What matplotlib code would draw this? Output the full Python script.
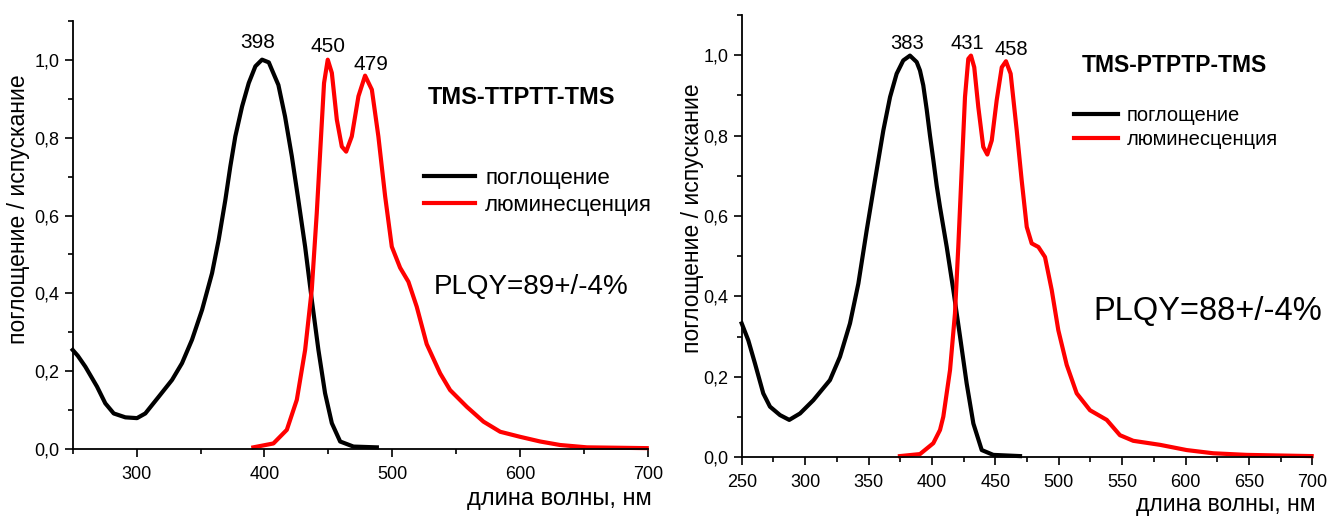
import numpy as np
import matplotlib.pyplot as plt
from matplotlib.ticker import MultipleLocator, FuncFormatter

plt.rcParams['font.family'] = ['Liberation Sans', 'DejaVu Sans']

# Левый график: TMS-TTPTT-TMS
abs1_x = [250, 254, 259.9, 269, 275.5, 282.1, 291.2, 300.3, 306.8, 317.3, 327.7, 335.5, 343.3, 351.2, 359,
          364.2, 369.4, 373.3, 377.2, 382.5, 387.7, 392.9, 398.1, 403.4, 405.7, 410.9, 416.1, 421.4, 426.5,
          431.8, 437, 442.2, 447.4, 452.7, 459.2, 469.6, 487.9]
abs1_y = [0.255, 0.24, 0.212, 0.161, 0.118, 0.092, 0.082, 0.080, 0.092, 0.135, 0.178, 0.221, 0.281, 0.358,
          0.452, 0.538, 0.640, 0.726, 0.803, 0.880, 0.940, 0.983, 1.0, 0.993, 0.975, 0.935, 0.854, 0.752, 0.640,
          0.520, 0.384, 0.255, 0.144, 0.067, 0.020, 0.007, 0.005]
em1_x = [391.3, 407, 417.5, 425.3, 431.8, 437, 440.9, 444.1, 446.6, 449.5, 452.7, 456.6, 460.5, 463.9,
         468.3, 473.5, 478.7, 484, 489.1, 494.4, 499.6, 506.1, 512.6, 519.1, 526.9, 537.4, 545.2, 558.3,
         571.3, 584.4, 600, 615.7, 631.3, 652.2, 699]
em1_y = [0.005, 0.015, 0.050, 0.127, 0.255, 0.41, 0.606, 0.794, 0.940, 1.0, 0.966, 0.846, 0.777, 0.764,
         0.803, 0.906, 0.959, 0.923, 0.803, 0.649, 0.52, 0.466, 0.430, 0.366, 0.270, 0.195, 0.152, 0.109,
         0.071, 0.045, 0.032, 0.020, 0.011, 0.005, 0.003]

# Правый график: TMS-PTPTP-TMS
abs2_x = [250, 255.2, 260.5, 267, 272.3, 280.2, 287.5, 296, 306.5, 319.6, 327.5, 335.4, 342, 348.6, 355.1,
          361.7, 367, 372.2, 377.4, 382.7, 388, 390.6, 393.2, 395.9, 398.5, 401.1, 403.8, 406.4, 411.7, 416.9,
          422.2, 427.4, 432.7, 439.3, 448.4, 469.5]
abs2_y = [0.333, 0.291, 0.233, 0.159, 0.126, 0.105, 0.093, 0.109, 0.142, 0.192, 0.250, 0.333, 0.432, 0.565,
          0.689, 0.813, 0.896, 0.954, 0.987, 0.999, 0.983, 0.962, 0.925, 0.865, 0.80, 0.74, 0.675, 0.622,
          0.523, 0.416, 0.300, 0.184, 0.084, 0.018, 0.006, 0.003]
em2_x = [374.8, 390.6, 401.1, 406.4, 409, 414.3, 418.2, 420.8, 423.5, 426.1, 428.7, 430.8, 433.4, 436.6,
         440.5, 443.7, 447.2, 451.1, 455.1, 458.4, 462.1, 466.9, 470.8, 474.8, 478.7, 484, 489.2, 494.5, 499.7,
         506.3, 514.2, 524.7, 537.9, 548.3, 558.8, 579.9, 600.9, 621.9, 648.3, 699.5]
em2_y = [0.003, 0.008, 0.035, 0.068, 0.101, 0.217, 0.358, 0.523, 0.714, 0.896, 0.991, 0.999, 0.970, 0.871,
         0.772, 0.753, 0.788, 0.888, 0.970, 0.985, 0.954, 0.813, 0.689, 0.573, 0.532, 0.523, 0.498, 0.416, 0.316,
         0.230, 0.159, 0.117, 0.093, 0.055, 0.041, 0.031, 0.018, 0.010, 0.006, 0.003]

peaks1 = ['398', '450', '479']
peaks1_pos = [(394.4, 1.044), (449.8, 1.033), (483.3, 0.987)]
peaks2 = ['383', '431', '458']
peaks2_pos = [(380.4, 1.029), (427.7, 1.029), (462.4, 1.014)]

W, H = 1329, 517
fig = plt.figure(figsize=(W / 100, H / 100), dpi=100)


def fx(px):
    return px / W


def fy(py):
    return 1 - py / H


comma = FuncFormatter(lambda v, p: f'{v:.1f}'.replace('.', ','))


def setup(ax, major_x, minor_x, fs):
    ax.set_xlim(250, 700)
    ax.set_ylim(0, 1.1)
    ax.spines['top'].set_visible(False)
    ax.spines['right'].set_visible(False)
    for s in ['left', 'bottom']:
        ax.spines[s].set_linewidth(1.3)
    ax.xaxis.set_major_locator(MultipleLocator(major_x))
    ax.xaxis.set_minor_locator(MultipleLocator(minor_x))
    ax.yaxis.set_major_locator(MultipleLocator(0.2))
    ax.yaxis.set_minor_locator(MultipleLocator(0.1))
    ax.yaxis.set_major_formatter(comma)
    ax.tick_params(which='major', direction='out', length=6, width=1.2, labelsize=fs)
    ax.tick_params(which='minor', direction='out', length=3.5, width=1.2)
    ax.tick_params(axis='x', pad=6)


# левая панель
ax1 = fig.add_axes([fx(72.7), fy(449.3), fx(648) - fx(72.7), fy(20.7) - fy(449.3)])
setup(ax1, 100, 50, 13)
ax1.plot(abs1_x, abs1_y, color='black', lw=3, solid_joinstyle='round', label='поглощение', clip_on=False)
ax1.plot(em1_x, em1_y, color='red', lw=3, solid_joinstyle='round', label='люминесценция', clip_on=False)
for t, (x, y) in zip(peaks1, peaks1_pos):
    ax1.text(x, y, t, ha='center', va='center', fontsize=15)
ax1.legend(loc='upper left', bbox_to_anchor=(fx(424), fy(168)), bbox_transform=fig.transFigure,
           frameon=False, fontsize=16, handlelength=2.3, handletextpad=0.45, borderpad=0,
           borderaxespad=0, labelspacing=0.25)
fig.text(fx(522), fy(98), 'TMS-TTPTT-TMS', ha='center', va='center', fontsize=17, fontweight='bold')
fig.text(fx(531), fy(287), 'PLQY=89+/-4%', ha='center', va='center', fontsize=20)
fig.text(fx(19), fy(209), 'поглощение / испускание', rotation=90, ha='center', va='center', fontsize=16.5)
fig.text(fx(652), fy(499), 'длина волны, нм', ha='right', va='center', fontsize=17)

# правая панель
ax2 = fig.add_axes([fx(741.7), fy(457.3), fx(1312.3) - fx(741.7), fy(15) - fy(457.3)])
setup(ax2, 50, 25, 13)
ax2.plot(abs2_x, abs2_y, color='black', lw=3, solid_joinstyle='round', label='поглощение', clip_on=False)
ax2.plot(em2_x, em2_y, color='red', lw=3, solid_joinstyle='round', label='люминесценция', clip_on=False)
for t, (x, y) in zip(peaks2, peaks2_pos):
    ax2.text(x, y, t, ha='center', va='center', fontsize=14.5)
ax2.legend(loc='upper left', bbox_to_anchor=(fx(1074), fy(106)), bbox_transform=fig.transFigure,
           frameon=False, fontsize=14.5, handlelength=2.2, handletextpad=0.4, borderpad=0,
           borderaxespad=0, labelspacing=0.25)
fig.text(fx(1174), fy(65), 'TMS-PTPTP-TMS', ha='center', va='center', fontsize=16.5, fontweight='bold')
fig.text(fx(1208), fy(312), 'PLQY=88+/-4%', ha='center', va='center', fontsize=23.5)
fig.text(fx(693), fy(218), 'поглощение / испускание', rotation=90, ha='center', va='center', fontsize=16.5)
fig.text(fx(1315), fy(504), 'длина волны, нм', ha='right', va='center', fontsize=16.5)

fig.savefig('out.png', dpi=100)
